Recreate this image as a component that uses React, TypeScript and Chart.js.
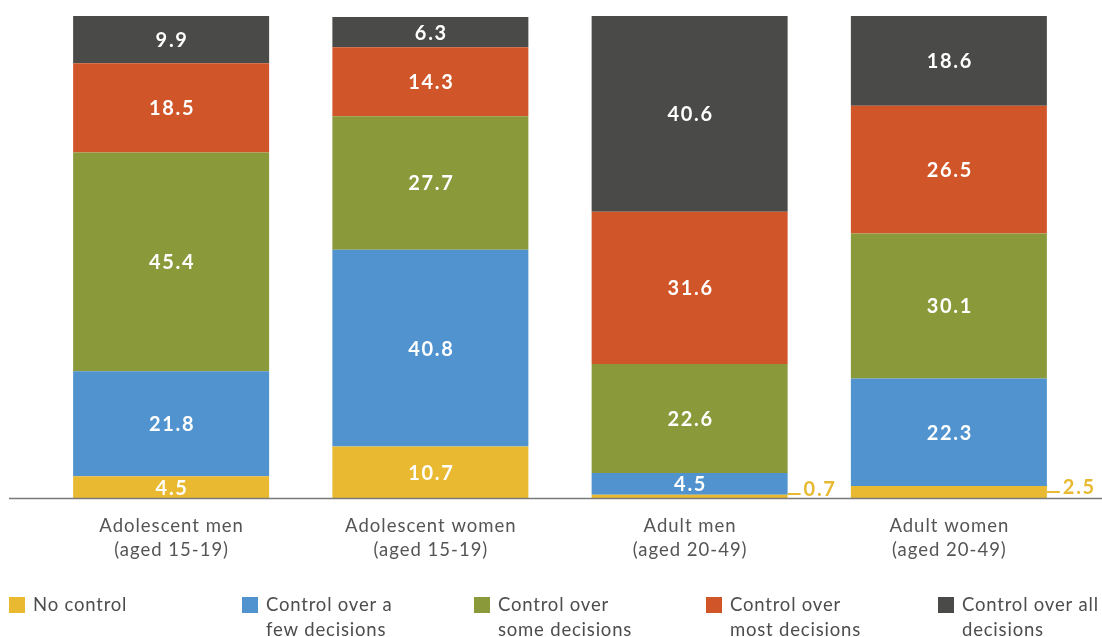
import React, { useEffect, useRef } from "react";
import { Chart, registerables } from "chart.js";

Chart.register(...registerables);

const categories: string[][] = [
  ["Adolescent men", "(aged 15-19)"],
  ["Adolescent women", "(aged 15-19)"],
  ["Adult men", "(aged 20-49)"],
  ["Adult women", "(aged 20-49)"],
];

const noControl = [4.5, 10.7, 0.7, 2.5];
const fewDecisions = [21.8, 40.8, 4.5, 22.3];
const someDecisions = [45.4, 27.7, 22.6, 30.1];
const mostDecisions = [18.5, 14.3, 31.6, 26.5];
const allDecisions = [9.9, 6.3, 40.6, 18.6];

const seriesNames = [
  "No control",
  "Control over a few decisions",
  "Control over some decisions",
  "Control over most decisions",
  "Control over all decisions",
];
const legendLines: string[][] = [
  ["No control"],
  ["Control over a", "few decisions"],
  ["Control over", "some decisions"],
  ["Control over", "most decisions"],
  ["Control over all", "decisions"],
];
const colors = ["#E8B931", "#5093CF", "#8A9A3A", "#D0562A", "#4A4A48"];

const FONT = "Lato, 'Open Sans', sans-serif";

export default function App() {
  const ref = useRef<HTMLCanvasElement | null>(null);

  useEffect(() => {
    if (!ref.current) return;
    const values = [noControl, fewDecisions, someDecisions, mostDecisions, allDecisions];

    const overlay = {
      id: "overlay",
      afterDatasetsDraw(chart: any) {
        const ctx = chart.ctx as any;
        const area = chart.chartArea;
        ctx.save();
        // baseline
        ctx.strokeStyle = "#7a7a7a";
        ctx.lineWidth = 1.5;
        ctx.beginPath();
        ctx.moveTo(9, area.bottom + 0.5);
        ctx.lineTo(1102, area.bottom + 0.5);
        ctx.stroke();

        // value labels
        ctx.letterSpacing = "1.7px";
        chart.data.datasets.forEach((ds: any, i: number) => {
          const meta = chart.getDatasetMeta(i);
          meta.data.forEach((el: any, j: number) => {
            const v = ds.data[j];
            const cy = (el.y + el.base) / 2;
            if (v < 3) {
              const x0 = el.x + el.width / 2;
              const ly = Math.min(cy, el.base - 4);
              ctx.strokeStyle = colors[0];
              ctx.lineWidth = 2;
              ctx.beginPath();
              ctx.moveTo(x0, ly);
              ctx.lineTo(x0 + 13, ly);
              ctx.stroke();
              ctx.fillStyle = colors[0];
              ctx.font = `bold 20px ${FONT}`;
              ctx.textAlign = "left";
              ctx.textBaseline = "middle";
              ctx.fillText(v.toFixed(1), x0 + 16, ly - 4);
            } else {
              ctx.fillStyle = "#ffffff";
              ctx.font = `bold 20px ${FONT}`;
              ctx.textAlign = "center";
              ctx.textBaseline = "middle";
              ctx.fillText(v.toFixed(1), el.x + 1, cy + 1);
            }
          });
        });

        // category labels
        ctx.letterSpacing = "1px";
        const xs = chart.scales.x;
        ctx.fillStyle = "#555555";
        ctx.font = `18.5px ${FONT}`;
        ctx.textAlign = "center";
        ctx.textBaseline = "middle";
        categories.forEach((lines, j) => {
          const x = xs.getPixelForValue(j);
          lines.forEach((t, k) => {
            ctx.fillText(t, x + 0.5, area.bottom + 28 + k * 24);
          });
        });

        // legend
        ctx.letterSpacing = "0.8px";
        const lx = [9, 242, 474, 706, 938];
        legendLines.forEach((lines, i) => {
          ctx.fillStyle = colors[i];
          ctx.fillRect(lx[i], 597, 16, 16);
          ctx.fillStyle = "#4d4d4d";
          ctx.font = `18.5px ${FONT}`;
          ctx.textAlign = "left";
          ctx.textBaseline = "middle";
          lines.forEach((t, k) => {
            ctx.fillText(t, lx[i] + 24, 605 + k * 25);
          });
        });
        ctx.restore();
      },
    };

    const chart = new Chart(ref.current, {
      type: "bar",
      data: {
        labels: categories.map((c) => c.join(" ")),
        datasets: values.map((d, i) => ({
          label: seriesNames[i],
          data: d,
          backgroundColor: colors[i],
          borderWidth: 0,
          barPercentage: 1,
          categoryPercentage: 0.756,
        })),
      },
      options: {
        responsive: false,
        animation: false,
        devicePixelRatio: 1,
        layout: { padding: { left: 41.5, right: 23.5, top: 16, bottom: 139 } },
        plugins: { legend: { display: false }, tooltip: { enabled: false } },
        scales: {
          x: { stacked: true, display: false },
          y: { stacked: true, display: false, min: 0, max: 100 },
        },
      },
      plugins: [overlay],
    });

    if ((document as any).fonts) {
      (document as any).fonts.load(`18px Lato`).then(() => chart.update()).catch(() => {});
      (document as any).fonts.load(`bold 20px Lato`).then(() => chart.update()).catch(() => {});
    }

    return () => chart.destroy();
  }, []);

  return (
    <div style={{ position: "absolute", left: 0, top: 0, width: 1102, height: 637, background: "#fff" }}>
      <canvas ref={ref} width={1102} height={637} />
    </div>
  );
}
